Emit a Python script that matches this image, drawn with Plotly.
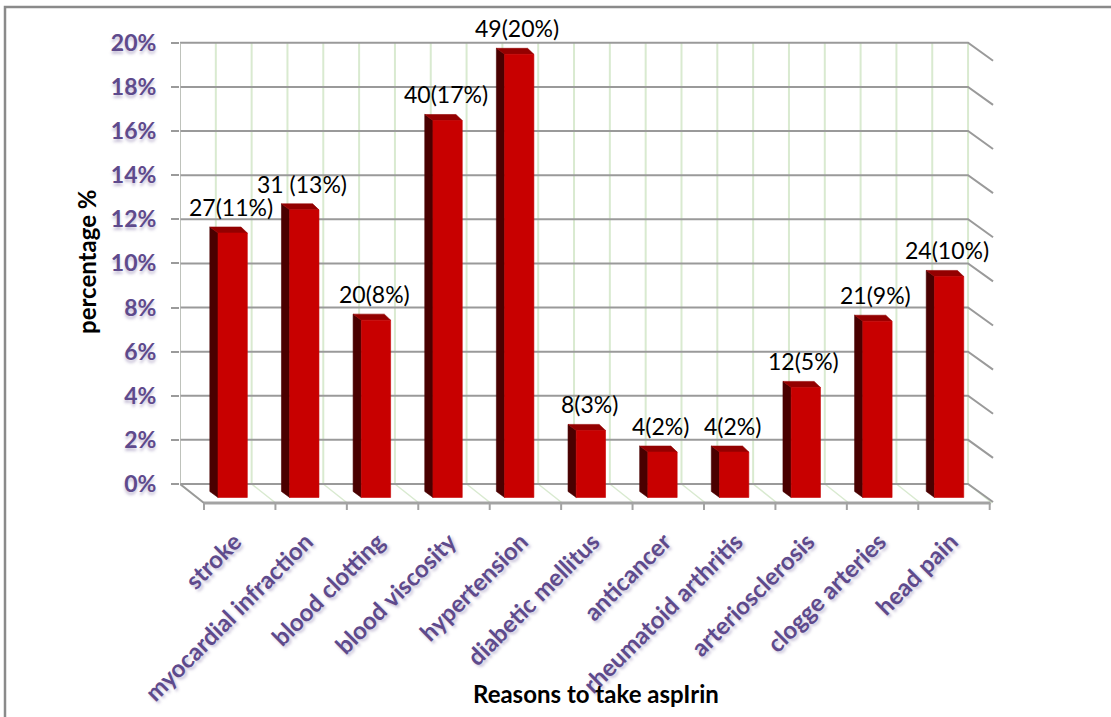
import plotly.graph_objects as go

# ---------------- data ----------------
categories = ["stroke", "myocardial infraction", "blood clotting", "blood viscosity",
              "hypertension", "diabetic mellitus", "anticancer", "rheumatoid arthritis",
              "arteriosclerosis", "clogge arteries", "head pain"]
percent_values = [11.65, 12.7, 7.7, 16.75, 19.75, 2.7, 1.72, 1.72, 4.65, 7.65, 9.68]
bar_labels = ["27(11%)", "31 (13%)", "20(8%)", "40(17%)", "49(20%)", "8(3%)",
              "4(2%)", "4(2%)", "12(5%)", "21(9%)", "24(10%)"]
y_ticks = [0, 2, 4, 6, 8, 10, 12, 14, 16, 18, 20]
y_ticktext = [f"{t}%" for t in y_ticks]

# ---------------- geometry (pixel based) ----------------
W, H = 1111, 717
L, R, T, B = 180, 995, 30, 512          # plot area in px
N = len(categories)
XMAX = 11.376
YMIN, YMAX = -1.27, 20.58
PXX = (R - L) / XMAX
PXY = (B - T) / (YMAX - YMIN)


def dx(px):
    return px / PXX


def dy(px):
    return px / PXY


DEPTH_X, DEPTH_Y = dx(25), dy(18)
FLOOR_FRONT = -dy(19)
BAR_BOTTOM = -dy(13.5)

PURPLE = "#5E4A8C"
GRID = "#9a9a9a"
GREEN = "#d9ead0"
shadow = "0px 3px 3px rgba(94,74,140,0.35)"

fig = go.Figure()


def add_lines(xs, ys, color, width):
    fig.add_trace(go.Scatter(x=xs, y=ys, mode="lines", hoverinfo="skip",
                             line=dict(color=color, width=width), showlegend=False))


# vertical green lines on back wall
gx, gy = [], []
for k in range(2 * N + 1):
    gx += [k * 0.5, k * 0.5, None]
    gy += [0, max(y_ticks), None]
add_lines(gx, gy, GREEN, 2)

# floor depth lines (faint green)
fx, fy = [], []
for k in range(N + 1):
    fx += [k, k + DEPTH_X * 0.96, None]
    fy += [0, FLOOR_FRONT, None]
add_lines(fx, fy, GREEN, 1.5)

# horizontal gridlines on back wall + right side slants
hx, hy = [], []
for t in y_ticks:
    hx += [0, N, N + DEPTH_X, None]
    hy += [t, t, t - DEPTH_Y, None]
add_lines(hx, hy, GRID, 2)

# back wall left edge
add_lines([0, 0], [0, max(y_ticks)], "#b5b5b5", 1.5)

# floor left edge
add_lines([0, DEPTH_X * 0.96], [0, FLOOR_FRONT], GRID, 2)

# floor front edge with ticks
add_lines([DEPTH_X * 0.96, N + DEPTH_X * 0.9], [FLOOR_FRONT, FLOOR_FRONT], "#a3a3a3", 3)
tx, ty = [], []
for k in range(N + 1):
    xk = DEPTH_X * 0.96 + k * 0.997
    tx += [xk, xk, None]
    ty += [FLOOR_FRONT, FLOOR_FRONT - dy(7), None]
add_lines(tx, ty, "#a3a3a3", 2)

# bars (3D look)
side_x, side_y, top_x, top_y, front_x, front_y = [], [], [], [], [], []
for i, v in enumerate(percent_values):
    c = i + 0.5
    sl, fl, fr = c - dx(6), c + dx(2.2), c + dx(31.5)
    drop = dy(6)
    side_x += [sl, fl, fl, sl, sl, None]
    side_y += [v, v - drop, BAR_BOTTOM, BAR_BOTTOM + drop, v, None]
    top_x += [sl, fr - dx(6.3), fr, fl, sl, None]
    top_y += [v, v, v - drop, v - drop, v, None]
    front_x += [fl, fr, fr, fl, fl, None]
    front_y += [BAR_BOTTOM, BAR_BOTTOM, v - drop, v - drop, BAR_BOTTOM, None]

for xs, ys, col in [(side_x, side_y, "#4a0000"), (top_x, top_y, "#930000"),
                    (front_x, front_y, "#c80000")]:
    fig.add_trace(go.Scatter(x=xs, y=ys, mode="lines", fill="toself", fillcolor=col,
                             line=dict(width=0.6, color=col), hoverinfo="skip",
                             showlegend=False))

# data labels
for i, (v, lab) in enumerate(zip(percent_values, bar_labels)):
    fig.add_annotation(x=i + 0.5 + dx(15), y=v, text=lab, showarrow=False,
                       yanchor="bottom", xanchor="center", yshift=4,
                       font=dict(family="Lato", size=23, color="black"))

# axis titles
fig.add_annotation(xref="paper", yref="paper", x=(86 - L) / (R - L), y=(B - 262) / (B - T),
                   xanchor="center", yanchor="middle",
                   text="<b>percentage %</b>", textangle=-90, showarrow=False,
                   font=dict(family="Lato", size=24, color="black"))
fig.add_annotation(xref="paper", yref="paper", x=(596 - L) / (R - L), y=(B - 693) / (B - T),
                   xanchor="center", yanchor="middle",
                   text="<b>Reasons to take aspIrin</b>", showarrow=False,
                   font=dict(family="Lato", size=24, color="black"))

# outer border
fig.add_shape(type="rect", xref="paper", yref="paper",
              x0=(5 - L) / (R - L), x1=(1130 - L) / (R - L),
              y0=(B - 740) / (B - T), y1=(B - 7) / (B - T),
              line=dict(color="#8a8a8a", width=2.5), fillcolor="rgba(0,0,0,0)")

fig.update_layout(
    width=W, height=H,
    margin=dict(l=L, r=W - R, t=T, b=H - B),
    paper_bgcolor="white", plot_bgcolor="white",
    showlegend=False,
    xaxis=dict(range=[0, XMAX], showgrid=False, zeroline=False, showline=False,
               tickmode="array",
               tickvals=[i + 0.5 + DEPTH_X * 0.75 for i in range(N)],
               ticktext=[f"<b>{c}</b>" for c in categories],
               tickangle=-45, ticks="", ticklabelstandoff=10,
               tickfont=dict(family="Lato", size=24, color=PURPLE, shadow=shadow)),
    yaxis=dict(range=[YMIN, YMAX], showgrid=False, zeroline=False, showline=False,
               tickmode="array", tickvals=y_ticks,
               ticktext=[f"<b>{t}</b>" for t in y_ticktext],
               ticks="outside", ticklen=8, tickwidth=2, tickcolor=GRID,
               ticklabelstandoff=10,
               tickfont=dict(family="Lato", size=23, color=PURPLE, shadow=shadow)),
)

fig.write_html("out.html")
